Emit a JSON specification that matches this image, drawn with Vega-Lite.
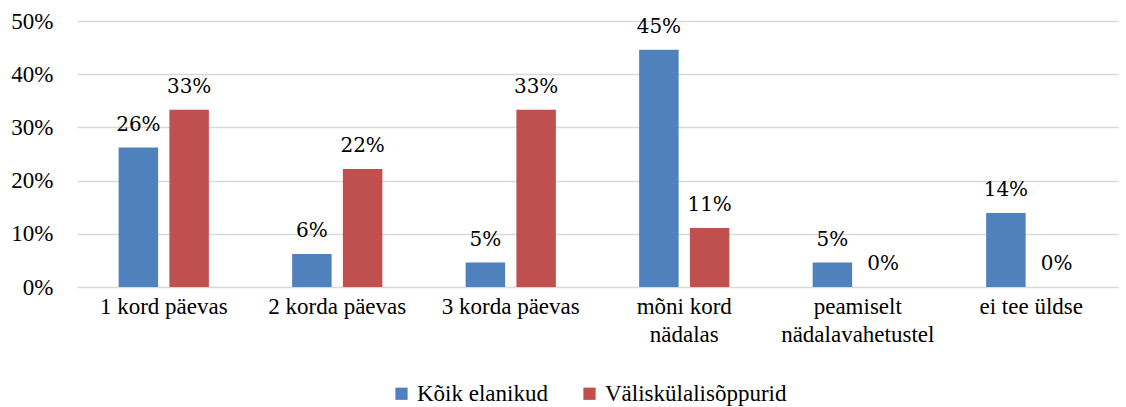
{
  "$schema": "https://vega.github.io/schema/vega-lite/v6.json",
  "width": 1041,
  "height": 266,
  "autosize": {"type": "none"},
  "padding": {"left": 77, "top": 21, "right": 8, "bottom": 120},
  "background": "white",
  "config": {
    "view": {"stroke": null}
  },
  "data": {
    "values": [
      {"kategooria": "1 kord päevas", "grupp": "Kõik elanikud", "vaartus": 0.262},
      {"kategooria": "1 kord päevas", "grupp": "Väliskülalisõppurid", "vaartus": 0.333},
      {"kategooria": "2 korda päevas", "grupp": "Kõik elanikud", "vaartus": 0.062},
      {"kategooria": "2 korda päevas", "grupp": "Väliskülalisõppurid", "vaartus": 0.222},
      {"kategooria": "3 korda päevas", "grupp": "Kõik elanikud", "vaartus": 0.046},
      {"kategooria": "3 korda päevas", "grupp": "Väliskülalisõppurid", "vaartus": 0.333},
      {"kategooria": "mõni kord|nädalas", "grupp": "Kõik elanikud", "vaartus": 0.446},
      {"kategooria": "mõni kord|nädalas", "grupp": "Väliskülalisõppurid", "vaartus": 0.111},
      {"kategooria": "peamiselt|nädalavahetustel", "grupp": "Kõik elanikud", "vaartus": 0.046},
      {"kategooria": "peamiselt|nädalavahetustel", "grupp": "Väliskülalisõppurid", "vaartus": 0.0},
      {"kategooria": "ei tee üldse", "grupp": "Kõik elanikud", "vaartus": 0.139},
      {"kategooria": "ei tee üldse", "grupp": "Väliskülalisõppurid", "vaartus": 0.0}
    ]
  },
  "encoding": {
    "x": {
      "field": "kategooria",
      "type": "nominal",
      "sort": null,
      "title": null,
      "scale": {"paddingInner": 0.48, "paddingOuter": 0.24},
      "axis": {
        "labelFont": "Times New Roman",
        "labelFontSize": 23,
        "labelColor": "#000000",
        "labelAngle": 0,
        "labelExpr": "split(datum.label, '|')",
        "labelLineHeight": 28,
        "labelPadding": 8,
        "ticks": false,
        "domain": false,
        "labelLimit": 0
      }
    },
    "xOffset": {
      "field": "grupp",
      "type": "nominal",
      "scale": {"paddingInner": 0.222, "paddingOuter": 0}
    },
    "y": {
      "field": "vaartus",
      "type": "quantitative",
      "title": null,
      "scale": {"domain": [0, 0.5], "nice": false},
      "axis": {
        "labelFont": "Times New Roman",
        "labelFontSize": 23,
        "labelColor": "#000000",
        "format": ".0%",
        "values": [0, 0.1, 0.2, 0.3, 0.4, 0.5],
        "labelOverlap": false,
        "ticks": false,
        "domain": false,
        "gridColor": "#d9d9d9",
        "gridWidth": 1.5,
        "labelPadding": 24
      }
    }
  },
  "layer": [
    {
      "mark": {"type": "bar"},
      "encoding": {
        "color": {
          "field": "grupp",
          "type": "nominal",
          "scale": {"domain": ["Kõik elanikud", "Väliskülalisõppurid"], "range": ["#4F81BD", "#C0504D"]},
          "legend": {
            "title": null,
            "orient": "none",
            "direction": "horizontal",
            "legendX": 313,
            "legendY": 361,
            "labelFont": "Times New Roman",
            "labelFontSize": 23,
            "labelColor": "#000000",
            "labelLimit": 0,
            "symbolType": "square",
            "symbolSize": 150,
            "symbolStrokeWidth": 0,
            "labelOffset": 4,
            "columnPadding": 30
          }
        }
      }
    },
    {
      "mark": {"type": "text", "baseline": "alphabetic", "dy": -17, "fontSize": 20, "font": "DejaVu Serif", "color": "#000000"},
      "encoding": {
        "text": {"field": "vaartus", "type": "quantitative", "format": ".0%"}
      }
    }
  ]
}
